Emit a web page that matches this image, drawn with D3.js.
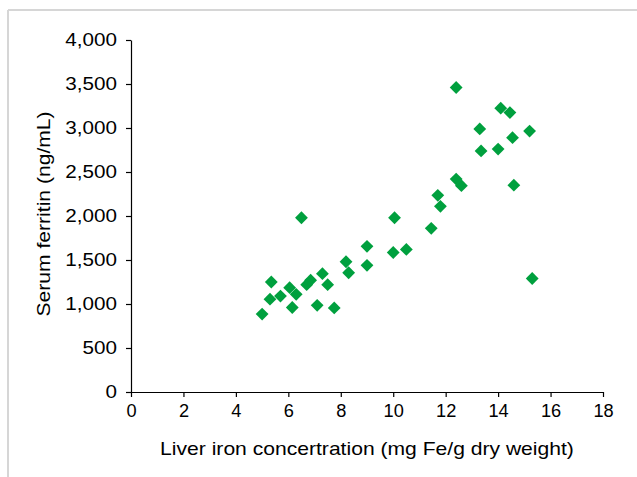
<!DOCTYPE html>
<html>
<head>
<meta charset="utf-8">
<script src="https://cdn.jsdelivr.net/npm/d3@7"></script>
<style>
  body { margin: 0; background: #fff; }
  text { font-family: "Liberation Sans", Arial, sans-serif; fill: #000; }
</style>
</head>
<body>
<svg id="chart" width="637" height="477"></svg>
<script>
// liver iron (mg Fe/g dry weight) vs serum ferritin (ng/mL)
var liverIron = [5.0, 5.35, 5.3, 5.7, 6.05, 6.15, 6.3, 6.5, 6.7, 6.85,
                 7.1, 7.3, 7.5, 7.75, 8.2, 8.3, 9.0, 9.0, 10.0, 10.05,
                 10.5, 11.45, 11.7, 11.8, 12.4, 12.6, 12.4, 13.3, 13.35, 14.0,
                 14.1, 14.45, 14.55, 14.6, 15.2, 15.3];
var ferritin = [885, 1250, 1055, 1090, 1185, 960, 1110, 1980, 1220, 1270,
                985, 1345, 1220, 955, 1480, 1355, 1440, 1655, 1585, 1980,
                1620, 1860, 2235, 2110, 2420, 2345, 3460, 2990, 2740, 2760,
                3225, 3175, 2890, 2350, 2965, 1290];

var xTicks = [0, 2, 4, 6, 8, 10, 12, 14, 16, 18];
var yTicks = [0, 500, 1000, 1500, 2000, 2500, 3000, 3500, 4000];

var svg = d3.select("#chart");
var margin = {top: 40, right: 34, bottom: 85, left: 131};
var width = 637 - margin.left - margin.right,
    height = 477 - margin.top - margin.bottom;

// light frame around the figure
svg.append("line").attr("x1", 8).attr("x2", 637).attr("y1", 10).attr("y2", 10)
   .attr("stroke", "#d6d6d6").attr("stroke-width", 2);
svg.append("line").attr("x1", 8).attr("x2", 8).attr("y1", 10).attr("y2", 477)
   .attr("stroke", "#d6d6d6").attr("stroke-width", 2);

var g = svg.append("g").attr("transform", "translate(" + margin.left + "," + margin.top + ")");

var x = d3.scaleLinear().domain([0, 18]).range([0, width]);
var y = d3.scaleLinear().domain([0, 4000]).range([height, 0]);

var xAxis = g.append("g")
  .attr("transform", "translate(0," + height + ")")
  .call(d3.axisBottom(x).tickValues(xTicks).tickSize(5).tickSizeOuter(0).tickPadding(8)
        .tickFormat(d3.format("d")));
var yAxis = g.append("g")
  .call(d3.axisLeft(y).tickValues(yTicks).tickSize(5).tickSizeOuter(0).tickPadding(9)
        .tickFormat(d3.format(",")));

[xAxis, yAxis].forEach(function(ax) {
  ax.select(".domain").attr("stroke", "#000").attr("stroke-width", 1.2);
  ax.selectAll(".tick line").attr("stroke", "#000").attr("stroke-width", 1.2);
  ax.selectAll("text").attr("font-size", 17.5).attr("font-family", null).attr("fill", "#000");
});

// points
var pts = d3.range(liverIron.length).map(function(i) { return [liverIron[i], ferritin[i]]; });
g.selectAll(".pt").data(pts).enter().append("path")
  .attr("class", "pt")
  .attr("d", d3.symbol().type(d3.symbolSquare).size(82))
  .attr("transform", function(d) { return "translate(" + x(d[0]) + "," + y(d[1]) + ") rotate(45)"; })
  .attr("fill", "#00a03e");

// axis titles
var xTitle = g.append("text")
  .attr("x", width / 2).attr("y", height + 63)
  .attr("text-anchor", "middle").attr("font-size", 18.5)
  .text("Liver iron concertration (mg Fe/g dry weight)");
var yTitle = g.append("text")
  .attr("transform", "translate(" + (50 - margin.left) + "," + (214 - margin.top) + ") rotate(-90)")
  .attr("text-anchor", "middle").attr("font-size", 18.5)
  .text("Serum ferritin (ng/mL)");

// the original lettering is a bit wider than Arial
function stretch(sel, k) {
  sel.each(function() {
    var len = this.getComputedTextLength();
    d3.select(this).attr("textLength", len * k).attr("lengthAdjust", "spacingAndGlyphs");
  });
}
stretch(xAxis.selectAll("text"), 1.04);
stretch(yAxis.selectAll("text"), 1.18);
stretch(xTitle, 1.14);
stretch(yTitle, 1.14);
</script>
</body>
</html>
